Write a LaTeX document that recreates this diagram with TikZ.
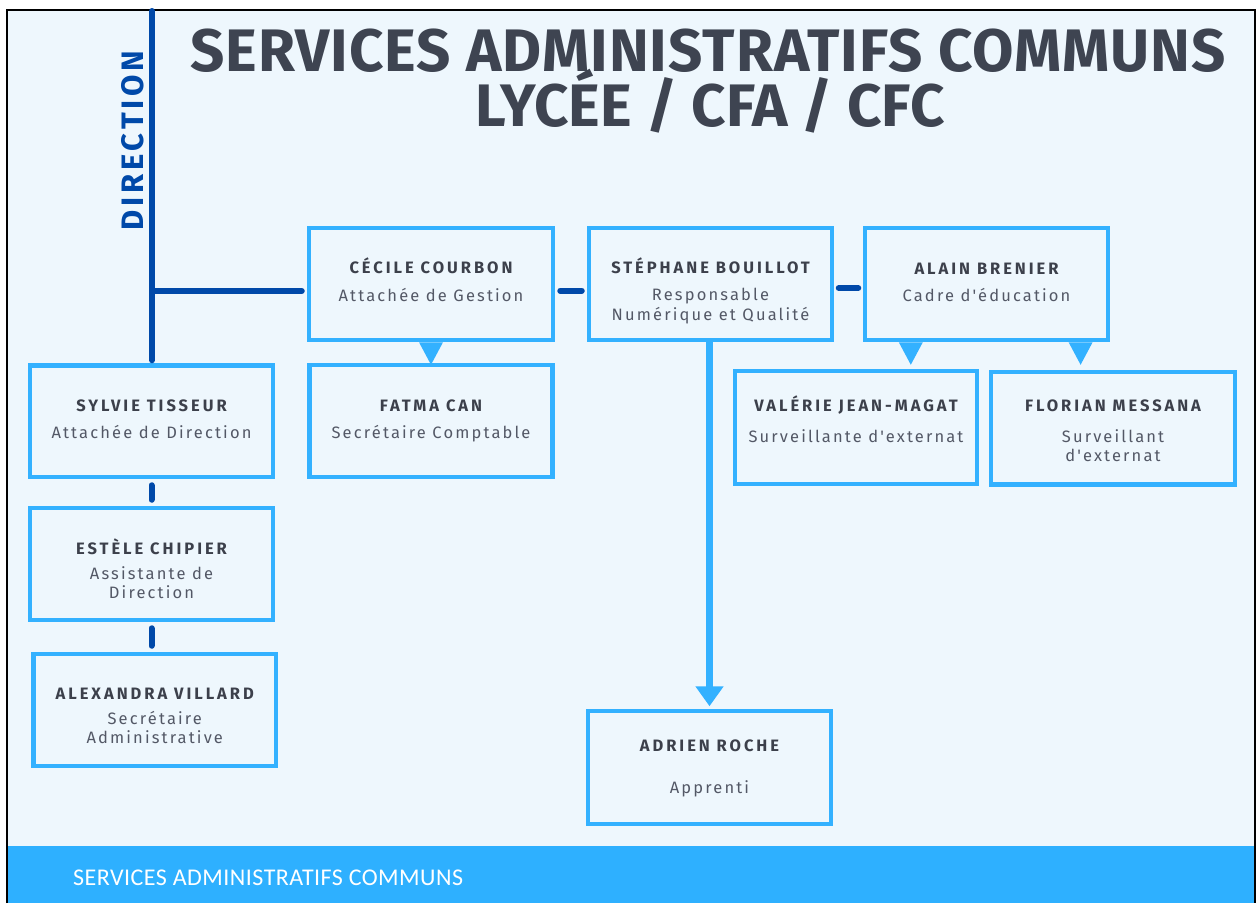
\documentclass[tikz,border=0pt]{standalone}
\usepackage{fontspec}
\setmainfont{Fira Sans}
\newfontfamily\titlefont{Fira Sans}
\newfontfamily\titlefontA[LetterSpace=1.7]{Fira Sans}
\newfontfamily\namefont[LetterSpace=18]{Fira Sans}
\newfontfamily\rolefont[LetterSpace=13]{Fira Sans}
\newfontfamily\dirfont[LetterSpace=12]{Fira Sans}
\newfontfamily\footfont[LetterSpace=2]{Carlito}
\usetikzlibrary{arrows.meta,calc}
\definecolor{bgc}{HTML}{EEF7FD}
\definecolor{lb}{HTML}{33B1FF}
\definecolor{dkb}{HTML}{0049A9}
\definecolor{ttl}{HTML}{3E4451}
\definecolor{nmc}{HTML}{3C404B}
\definecolor{rlc}{HTML}{535866}
\definecolor{footc}{HTML}{2EB0FF}
\tikzset{
  pbox/.style={draw=lb, line width=4.5, fill=bgc, minimum width=243, minimum height=112, inner sep=0, anchor=center},
  nm/.style={anchor=base, inner sep=0, text=nmc, font=\namefont\bfseries\fontsize{16.5}{17}\selectfont},
  rl/.style={anchor=base, inner sep=0, text=rlc, font=\rolefont\fontsize{16.5}{17}\selectfont},
  ttlstyle/.style={anchor=base, inner sep=0, text=ttl, font=\titlefont\bfseries\fontsize{60}{60}\selectfont},
  dk/.style={draw=dkb, line width=6, line cap=round},
  tri/.style={fill=lb}
}
\begin{document}
\begin{tikzpicture}[x=1pt,y=-1pt]
\useasboundingbox (0,0) rectangle (1257,903);
\fill[white] (0,0) rectangle (1257,903);
\fill[bgc] (7,10) rectangle (1255,903);
\fill[footc] (8,846) rectangle (1254,903);
\draw[black, line width=2] (7,903) -- (7,10) -- (1255,10) -- (1255,903);

% title
\node[ttlstyle, font=\titlefontA\bfseries\fontsize{60}{60}\selectfont] (t1) at (708,71.7) {SERVICES ADMINISTRATIFS COMMUNS};
\node[ttlstyle] (t2) at (710,126) {LYCÉE / CFA / CFC};

% direction
\node[rotate=90, anchor=base, inner sep=0, text=dkb, font=\dirfont\bfseries\fontsize{31}{31}\selectfont] (dir) at (143.3,140.5) {DIRECTION};

% boxes
\node[pbox, minimum width=244] (cecile) at (431,284) {};
\node[pbox] (stephane) at (710.5,284) {};
\node[pbox] (alain) at (986.5,284) {};
\node[pbox, minimum height=111.5] (sylvie) at (151.5,421.25) {};
\node[pbox] (fatma) at (431,421) {};
\node[pbox, minimum width=242, minimum height=112.6] (valerie) at (856,427.5) {};
\node[pbox, minimum width=244, minimum height=112.5] (florian) at (1113,428.25) {};
\node[pbox] (estele) at (151.5,564) {};
\node[pbox, minimum width=242.5] (alexandra) at (154.75,710) {};
\node[pbox, minimum height=113] (adrien) at (709.5,767.5) {};

% texts
\node[nm] (cecile-n) at (431,273.3) {CÉCILE COURBON};
\node[rl] (cecile-r) at (431,301) {Attachée de Gestion};
\node[nm] (stephane-n) at (710.5,273.3) {STÉPHANE BOUILLOT};
\node[rl] (stephane-r1) at (710.5,300.7) {Responsable};
\node[rl] (stephane-r2) at (710.5,320) {Numérique et Qualité};
\node[nm] (alain-n) at (986.5,274.3) {ALAIN BRENIER};
\node[rl] (alain-r) at (986.5,301) {Cadre d'éducation};
\node[nm] (sylvie-n) at (151.5,411.7) {SYLVIE TISSEUR};
\node[rl] (sylvie-r) at (151.5,438.3) {Attachée de Direction};
\node[nm] (fatma-n) at (431,411.7) {FATMA CAN};
\node[rl] (fatma-r) at (431,438.3) {Secrétaire Comptable};
\node[nm] (valerie-n) at (856,411.7) {VALÉRIE JEAN-MAGAT};
\node[rl] (valerie-r) at (856,442.3) {Surveillante d'externat};
\node[nm] (florian-n) at (1113,411.7) {FLORIAN MESSANA};
\node[rl] (florian-r1) at (1113,442.3) {Surveillant};
\node[rl] (florian-r2) at (1113,461.7) {d'externat};
\node[nm] (estele-n) at (151.5,554) {ESTÈLE CHIPIER};
\node[rl] (estele-r1) at (151.5,579) {Assistante de};
\node[rl] (estele-r2) at (151.5,598.3) {Direction};
\node[nm] (alexandra-n) at (154.75,699.3) {ALEXANDRA VILLARD};
\node[rl] (alexandra-r1) at (154.75,724.3) {Secrétaire};
\node[rl] (alexandra-r2) at (154.75,743.3) {Administrative};
\node[nm] (adrien-n) at (709.5,751) {ADRIEN ROCHE};
\node[rl] (adrien-r) at (709.5,793.3) {Apprenti};

% dark connectors
\coordinate (dirtop) at (152,11);
\coordinate (dirj) at (152,291);
\draw[dk, shorten >=3] (dirtop) -- (dirtop |- sylvie.north);
\draw[dk, shorten >=5] (dirj) -- (dirj -| cecile.west);
\draw[dk, shorten <=5, shorten >=5] ($(cecile.east)+(0,6.7)$) -- ($(stephane.west)+(0,6.7)$);
\draw[dk, shorten <=4.5, shorten >=4.5] ($(stephane.east)+(0,4)$) -- ($(alain.west)+(0,4)$);
\draw[dk, shorten <=6, shorten >=6] (sylvie.south) -- (estele.north);
\draw[dk, shorten <=6, shorten >=6] (estele.south) -- (estele.south |- alexandra.north);

% light blue pointers
\fill[tri] ($(cecile.south)+(-12,0)$) -- ($(cecile.south)+(12,0)$) -- ($(cecile.south)+(0,22.5)$) -- cycle;
\fill[tri] ($(alain.south)+(-87.7,0)$) -- ($(alain.south)+(-63.7,0)$) -- ($(alain.south)+(-75.7,22.5)$) -- cycle;
\fill[tri] ($(alain.south)+(82.1,0)$) -- ($(alain.south)+(106.1,0)$) -- ($(alain.south)+(94.1,22.5)$) -- cycle;
\draw[lb, line width=7, shorten >=2.5, -{Triangle[width=27pt,length=20pt]}] (stephane.south -| adrien.north) -- (adrien.north);

% footer
\node[anchor=base west, inner sep=0, text=white, font=\footfont\fontsize{24}{24}\selectfont] (foot) at (73,885) {SERVICES ADMINISTRATIFS COMMUNS};
\end{tikzpicture}
\end{document}
